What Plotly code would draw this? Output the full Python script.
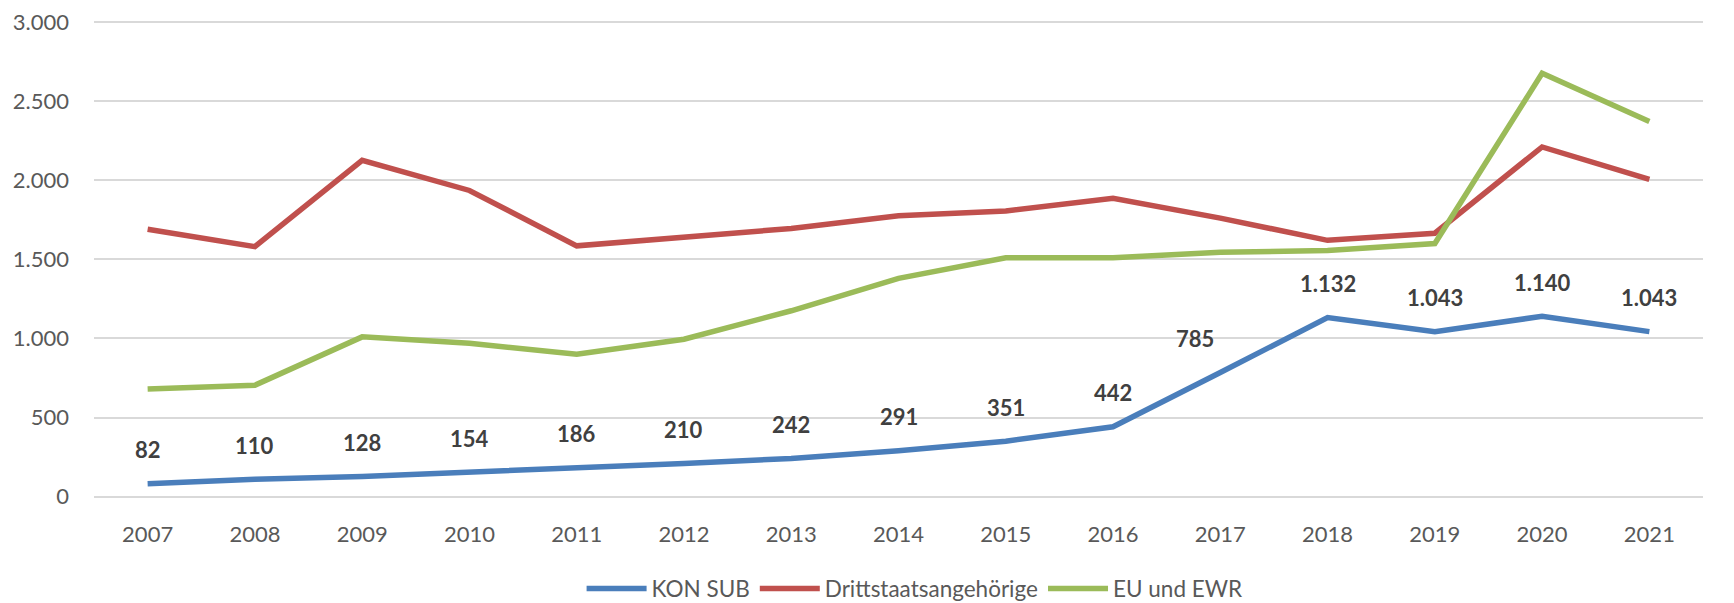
import plotly.graph_objects as go

years = ["2007", "2008", "2009", "2010", "2011", "2012", "2013", "2014",
         "2015", "2016", "2017", "2018", "2019", "2020", "2021"]
kon_sub = [82, 110, 128, 154, 186, 210, 242, 291, 351, 442, 785, 1132, 1043, 1140, 1043]
dritt = [1690, 1580, 2125, 1935, 1585, 1640, 1695, 1775, 1805, 1885, 1760, 1620, 1665, 2210, 2005]
eu_ewr = [680, 705, 1010, 970, 900, 995, 1175, 1380, 1510, 1510, 1545, 1555, 1600, 2675, 2370]
y_ticks = [0, 500, 1000, 1500, 2000, 2500, 3000]

font_family = "Lato, 'Open Sans', 'Liberation Sans', sans-serif"

fig = go.Figure()
series = [
    ("KON SUB", kon_sub, "#4a7ebb"),
    ("Drittstaatsangehörige", dritt, "#c0504d"),
    ("EU und EWR", eu_ewr, "#9bbb59"),
]
for name, vals, col in series:
    fig.add_trace(go.Scatter(
        x=years, y=vals, name=name, mode="lines",
        line=dict(color=col, width=5.5),
        hoverinfo="x+y+name",
    ))

def fmt(v):
    return f"{v:,}".replace(",", ".")

for i, (yr, v) in enumerate(zip(years, kon_sub)):
    fig.add_annotation(
        x=i, y=v, xref="x", yref="y", text=fmt(v), showarrow=False,
        yshift=34, xshift=(-25 if yr == "2017" else 0),
        font=dict(family=font_family, size=22, color="#404040", weight="bold"),
    )

# page body has an 8px default margin, so the figure is 8px smaller
fig.update_layout(
    width=1726, height=595,
    paper_bgcolor="white", plot_bgcolor="white",
    margin=dict(l=86, r=31, t=12, b=105, autoexpand=False),
    separators=",.",
    showlegend=True,
    legend=dict(
        orientation="h", x=0.51, xanchor="center", y=-0.19, yanchor="middle",
        font=dict(family=font_family, size=22.5, color="#595959"),
        itemwidth=60, tracegroupgap=0,
    ),
    xaxis=dict(
        type="category", range=[-0.5, 14.5],
        showgrid=False, showline=False, zeroline=False,
        ticks="", ticklabelstandoff=21,
        tickfont=dict(family=font_family, size=22, color="#595959"),
    ),
    yaxis=dict(
        range=[-8, 3012], tickvals=y_ticks, tickformat=",d",
        showgrid=True, gridcolor="#d9d9d9", gridwidth=2,
        zeroline=False, showline=False,
        ticks="", ticklabelstandoff=24, ticklabeloverflow="allow",
        tickfont=dict(family=font_family, size=22, color="#595959"),
    ),
)

fig.write_html("out.html")
